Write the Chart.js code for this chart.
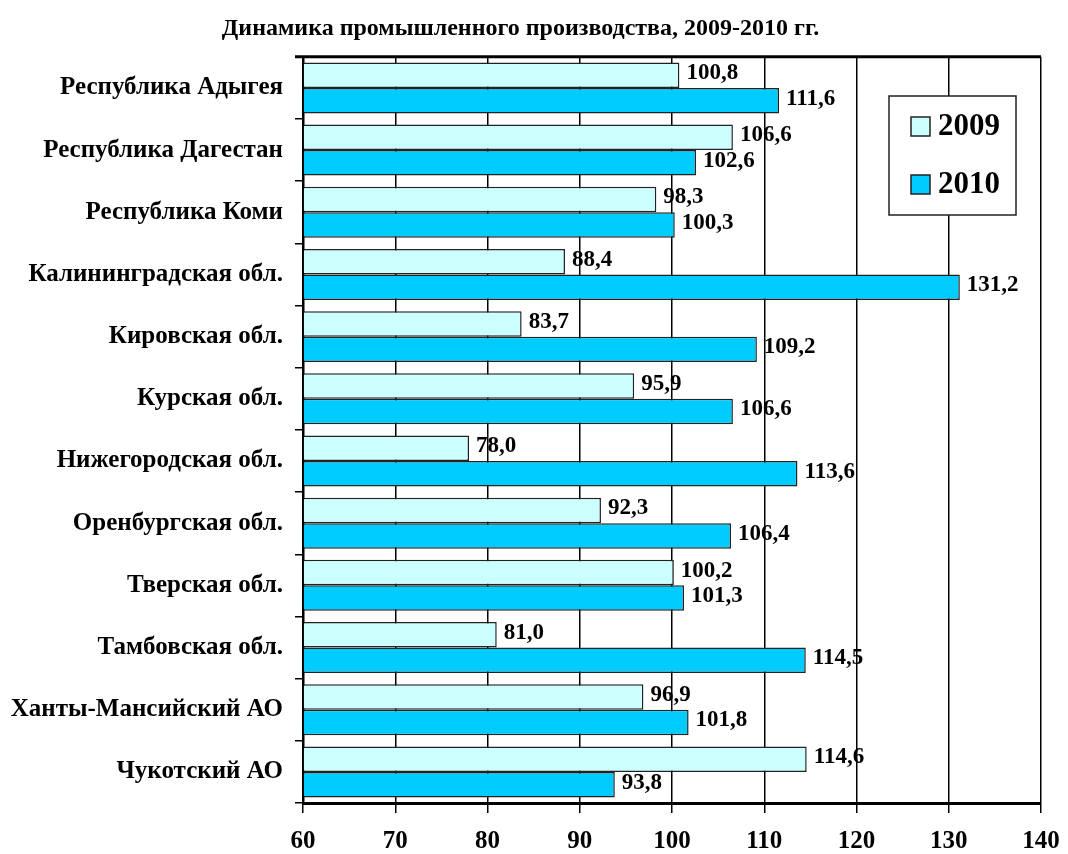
<!DOCTYPE html>
<html>
<head>
<meta charset="utf-8">
<script src="https://cdn.jsdelivr.net/npm/chart.js@4.4.1/dist/chart.umd.min.js"></script>
<style>
  html, body { margin: 0; padding: 0; background: #fff; }
  #wrap { width: 1068px; height: 854px; }
</style>
</head>
<body>
<div id="wrap"><canvas id="myChart"></canvas></div>
<script>
const regions = [
  "Республика Адыгея", "Республика Дагестан", "Республика Коми",
  "Калининградская обл.", "Кировская обл.", "Курская обл.",
  "Нижегородская обл.", "Оренбургская обл.", "Тверская обл.",
  "Тамбовская обл.", "Ханты-Мансийский АО", "Чукотский АО"
];
const values2009 = [100.8, 106.6, 98.3, 88.4, 83.7, 95.9, 78.0, 92.3, 100.2, 81.0, 96.9, 114.6];
const values2010 = [111.6, 102.6, 100.3, 131.2, 109.2, 106.6, 113.6, 106.4, 101.3, 114.5, 101.8, 93.8];
const seriesNames = ["2009", "2010"];
const axisMin = 60;
const axisMax = 140;
const axisStep = 10;

const serif = "'Liberation Serif', 'Times New Roman', serif";

document.addEventListener("DOMContentLoaded", function () {
  const ctx = document.getElementById("myChart");

  function fmt(v) {
    return v.toFixed(1).replace(".", ",");
  }

  // values written just past the end of each bar
  const valueLabels = {
    id: "valueLabels",
    afterDatasetsDraw(chart) {
      const c = chart.ctx;
      c.save();
      c.font = "bold 23px " + serif;
      c.fillStyle = "#000";
      c.textBaseline = "middle";
      c.textAlign = "left";
      chart.data.datasets.forEach(function (ds, i) {
        chart.getDatasetMeta(i).data.forEach(function (bar, j) {
          c.fillText(fmt(ds.data[j]), bar.x + 7, bar.y - 2);
        });
      });
      c.restore();
    }
  };

  // top frame line + boxed legend in the upper right
  const frameAndLegend = {
    id: "frameAndLegend",
    afterDraw(chart) {
      const c = chart.ctx;
      const a = chart.chartArea;
      c.save();
      c.strokeStyle = "#000";
      c.lineWidth = 3;
      c.beginPath();
      c.moveTo(a.left - 8, a.top);
      c.lineTo(a.right, a.top);
      c.stroke();

      const bx = 889, by = 96, bw = 127, bh = 119;
      c.fillStyle = "#fff";
      c.fillRect(bx, by, bw, bh);
      c.lineWidth = 1.5;
      c.strokeStyle = "#222";
      c.strokeRect(bx, by, bw, bh);

      c.font = "bold 31px " + serif;
      c.textBaseline = "middle";
      c.textAlign = "left";
      chart.data.datasets.forEach(function (ds, i) {
        const y = by + 30 + i * 58;
        c.fillStyle = ds.backgroundColor;
        c.fillRect(bx + 22, y - 9, 19, 19);
        c.strokeStyle = "#222";
        c.strokeRect(bx + 22, y - 9, 19, 19);
        c.fillStyle = "#000";
        c.fillText(ds.label, bx + 49, y + 1);
      });
      c.restore();
    }
  };

  new Chart(ctx, {
    type: "bar",
    data: {
      labels: regions,
      datasets: [
        {
          label: seriesNames[0],
          data: values2009,
          backgroundColor: "#ccffff",
          borderColor: "#222",
          borderWidth: 1.5,
          base: axisMin,
          categoryPercentage: 0.82,
          barPercentage: 1.0
        },
        {
          label: seriesNames[1],
          data: values2010,
          backgroundColor: "#00ccff",
          borderColor: "#222",
          borderWidth: 1.5,
          base: axisMin,
          categoryPercentage: 0.82,
          barPercentage: 1.0
        }
      ]
    },
    options: {
      indexAxis: "y",
      responsive: true,
      maintainAspectRatio: false,
      animation: false,
      layout: { padding: { left: 0, right: 27, top: 0, bottom: 0 } },
      plugins: {
        legend: { display: false },
        tooltip: { enabled: false },
        title: {
          display: true,
          text: "Динамика промышленного производства, 2009-2010 гг.",
          color: "#000",
          font: { family: serif, size: 24, weight: "bold" },
          padding: { top: 14, bottom: 14 }
        }
      },
      scales: {
        x: {
          min: axisMin,
          max: axisMax,
          ticks: {
            stepSize: axisStep,
            color: "#000",
            padding: 14,
            font: { family: serif, size: 25, weight: "bold" }
          },
          grid: { color: "#000", lineWidth: 1.5, tickLength: 10 },
          border: { color: "#000", width: 3 },
          afterFit: function (scale) {
            scale.height = 51;
            scale.paddingLeft = 0;
            scale.paddingRight = 0;
          }
        },
        y: {
          offset: true,
          ticks: {
            color: "#000",
            padding: 12,
            font: { family: serif, size: 25, weight: "bold" }
          },
          grid: { offset: true, drawOnChartArea: false, color: "#000", lineWidth: 1.5, tickLength: 8 },
          border: { color: "#000", width: 2.5 },
          afterFit: function (scale) { scale.width = 303; }
        }
      }
    },
    plugins: [valueLabels, frameAndLegend]
  });
});
</script>
</body>
</html>
